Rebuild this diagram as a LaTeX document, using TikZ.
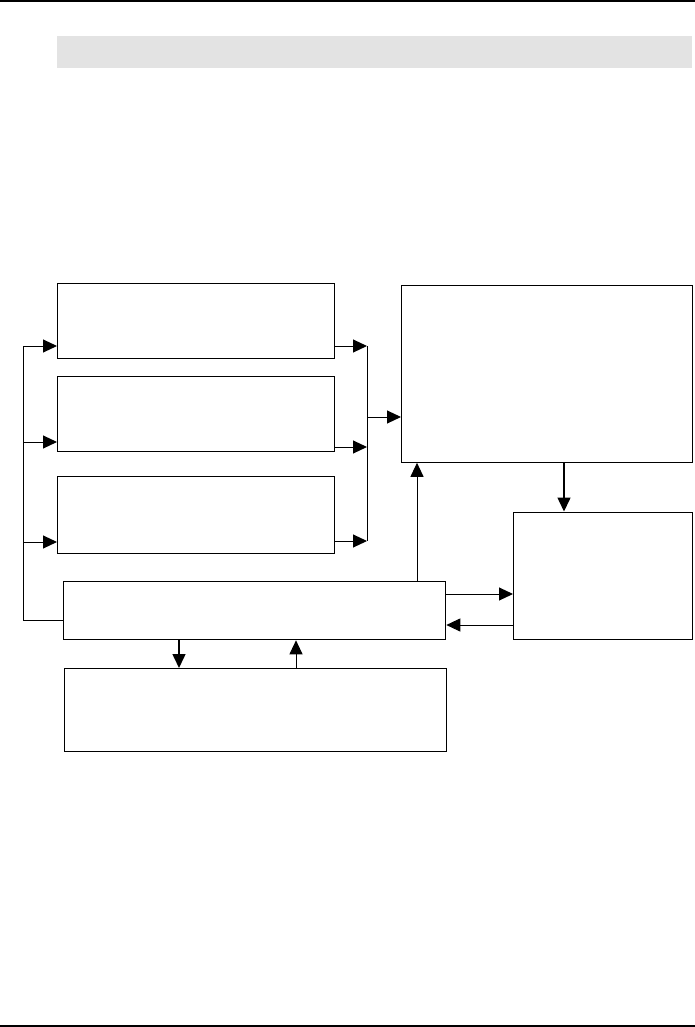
\documentclass[tikz,border=0pt]{standalone}
\usetikzlibrary{arrows.meta}
\begin{document}
\begin{tikzpicture}[
        x=1pt, y=-1pt,
        caixa/.style={draw, line width=1.3pt, inner sep=0pt, anchor=north west},
        faixa/.style={fill=black!11, inner sep=0pt, anchor=north west},
        seta/.style={-{Triangle[length=14pt, width=13pt]}, line width=1pt},
        linha/.style={line width=1pt},
        regua/.style={line width=1.8pt}
    ]
        \useasboundingbox (0,0) rectangle (695,1027);

        % Cabecalho e rodape da pagina
        \draw[regua] (0,1) -- (695,1);
        \node[faixa, minimum width=635pt, minimum height=32pt] (titulo) at (57,36) {};
        \draw[line width=1.5pt] (0,1026) -- (695,1026);

        % Caixas
        \node[caixa, minimum width=277pt, minimum height=74.5pt] (b1) at (57,283) {};
        \node[caixa, minimum width=277pt, minimum height=74.5pt] (b2) at (57,376) {};
        \node[caixa, minimum width=277pt, minimum height=76.5pt] (b3) at (57,476) {};
        \node[caixa, minimum width=291pt, minimum height=176.5pt] (b4) at (401,285) {};
        \node[caixa, minimum width=179pt, minimum height=127pt] (b5) at (513,511.5) {};
        \node[caixa, minimum width=382pt, minimum height=58pt] (b6) at (63,581) {};
        \node[caixa, minimum width=382pt, minimum height=83pt] (b7) at (64,668) {};

        % Barramento da esquerda
        \coordinate (ea) at (23,346);
        \coordinate (eb) at (23,442);
        \coordinate (ec) at (23,542);
        \coordinate (ed) at (23,620);
        \draw[linha] (b6.west |- ed) -- (ed) -- (ea);
        \foreach \c/\b in {ea/b1, eb/b2, ec/b3}
            \draw[seta] (\c) -- (\b.west |- \c);

        % Barramento da direita
        \coordinate (da) at (367,346);
        \coordinate (db) at (367,447);
        \coordinate (dc) at (367,541);
        \coordinate (dm) at (367,417);
        \foreach \c/\b in {da/b1, db/b2, dc/b3}
            \draw[seta] (\b.east |- \c) -- (\c);
        \draw[linha] (da) -- (dc);
        \draw[seta] (dm) -- (b4.west |- dm);

        % Ligacoes verticais e horizontais
        \coordinate (xa) at (564,0);
        \coordinate (xb) at (417,0);
        \coordinate (xc) at (179,0);
        \coordinate (xd) at (296,0);
        \coordinate (ya) at (0,594);
        \coordinate (yb) at (0,625);
        \draw[seta, line width=1.5pt] (b4.south -| xa) -- (b5.north -| xa);
        \draw[seta] (b6.north -| xb) -- (b4.south -| xb);
        \draw[seta] (b6.east |- ya) -- (b5.west |- ya);
        \draw[seta] (b5.west |- yb) -- (b6.east |- yb);
        \draw[seta, line width=1.5pt] (b6.south -| xc) -- (b7.north -| xc);
        \draw[seta] (b7.north -| xd) -- (b6.south -| xd);

    \end{tikzpicture}
\end{document}
